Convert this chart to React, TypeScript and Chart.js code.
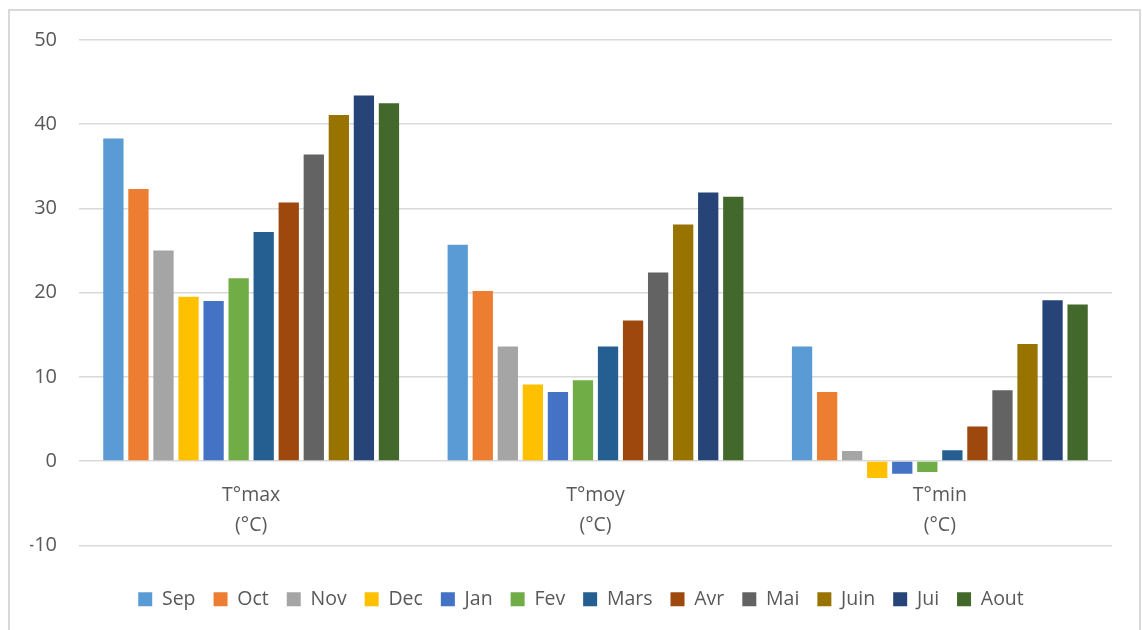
import React, { useEffect, useRef } from "react";
import { Chart, registerables } from "chart.js";

Chart.register(...registerables);

const categories: string[][] = [["T°max", "(°C)"], ["T°moy", "(°C)"], ["T°min", "(°C)"]];
const months: string[] = ["Sep", "Oct", "Nov", "Dec", "Jan", "Fev", "Mars", "Avr", "Mai", "Juin", "Jui", "Aout"];
const monthColors: string[] = ["#5B9BD5", "#ED7D31", "#A5A5A5", "#FFC000", "#4472C4", "#70AD47", "#255E91", "#9E480E", "#636363", "#997300", "#264478", "#43682B"];

// values per month: [T°max, T°moy, T°min]
const sep = [38.3, 25.7, 13.6];
const oct = [32.3, 20.2, 8.2];
const nov = [25.0, 13.6, 1.2];
const dec = [19.5, 9.1, -2.0];
const jan = [19.0, 8.2, -1.5];
const fev = [21.7, 9.6, -1.3];
const mars = [27.2, 13.6, 1.3];
const avr = [30.7, 16.7, 4.1];
const mai = [36.4, 22.4, 8.4];
const juin = [41.1, 28.1, 13.9];
const jui = [43.4, 31.9, 19.1];
const aout = [42.5, 31.4, 18.6];
const series: number[][] = [sep, oct, nov, dec, jan, fev, mars, avr, mai, juin, jui, aout];

const yMin = -10;
const yMax = 50;
const yStep = 10;

const FONT = "'Open Sans', 'Noto Sans', sans-serif";
const TEXT = "#595959";
const GRID = "#D9D9D9";

export default function App() {
  const ref = useRef<HTMLCanvasElement | null>(null);
  useEffect(() => {
    if (!ref.current) return;
    const chart = new Chart(ref.current, {
      type: "bar",
      data: {
        labels: categories,
        datasets: months.map((m, i) => ({
          label: m,
          data: series[i],
          backgroundColor: monthColors[i],
          borderWidth: 0,
          categoryPercentage: 0.873,
          barPercentage: 0.81,
          yAxisID: "y",
        })),
      },
      options: {
        responsive: false,
        animation: false,
        devicePixelRatio: 1,
        layout: { padding: { left: 30, right: 10, top: 40, bottom: 11 } },
        plugins: {
          tooltip: { enabled: false },
          legend: {
            position: "bottom",
            title: { display: true, text: "", font: { size: 1 }, padding: { top: 25, bottom: 0 } },
            labels: {
              boxWidth: 14,
              boxHeight: 14,
              padding: 18,
              color: TEXT,
              font: { family: FONT, size: 19.5 },
            },
          },
        },
        scales: {
          x: {
            position: { y: 0 } as any,
            grid: { display: false },
            border: { display: false },
            ticks: {
              color: TEXT,
              padding: 12,
              font: { family: FONT, size: 19.5, lineHeight: 1.5 },
            },
          },
          y: {
            min: yMin,
            max: yMax,
            ticks: {
              stepSize: yStep,
              color: TEXT,
              padding: 22,
              font: { family: FONT, size: 20 },
            },
            grid: { color: GRID, lineWidth: 1.5, drawTicks: false },
            border: { display: false },
            afterFit: (s: any) => {
              s.width = 49;
            },
          },
          spacer: {
            type: "linear",
            position: "right",
            display: true,
            grid: { display: false, drawTicks: false },
            border: { display: false },
            ticks: { display: false },
            afterFit: (s: any) => {
              s.width = 20;
            },
          },
        },
      },
    });
    return () => chart.destroy();
  }, []);
  return (
    <div>
      <div
        style={{
          position: "fixed",
          left: 8,
          top: 9,
          width: 1133,
          height: 700,
          border: "2px solid #D9D9D9",
          boxSizing: "border-box",
        }}
      />
      <canvas
        ref={ref}
        width={1142}
        height={630}
        style={{ position: "fixed", left: 0, top: 0, width: 1142, height: 630 }}
      />
    </div>
  );
}
